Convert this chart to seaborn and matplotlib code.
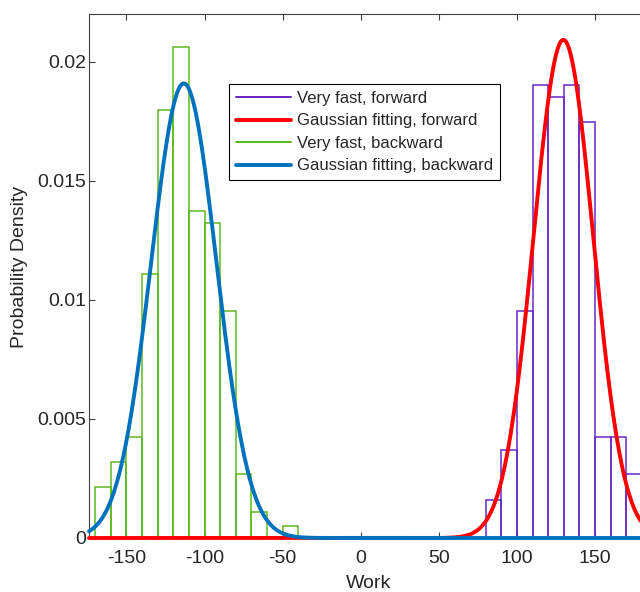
import numpy as np
import pandas as pd
import matplotlib
matplotlib.use("Agg")
import matplotlib.pyplot as plt
from matplotlib.lines import Line2D
import seaborn as sns

# Histogram bin edges (width 10) and probability densities
fwd_edges = [80, 90, 100, 110, 120, 130, 140, 150, 160, 170, 180]
fwd_density = [0.0016, 0.00371, 0.00952, 0.01903, 0.0185, 0.01903,
               0.01745, 0.00424, 0.00424, 0.00268]

bwd_edges = [-170, -160, -150, -140, -130, -120, -110, -100, -90, -80,
             -70, -60, -50, -40]
bwd_density = [0.00213, 0.00318, 0.00424, 0.01109, 0.01798, 0.02062,
               0.01375, 0.01322, 0.00952, 0.00268, 0.00108, 0.0, 0.00052]

# Gaussian fit parameters (mean, standard deviation)
fwd_mu, fwd_sigma = 129.7, 19.07
bwd_mu, bwd_sigma = -113.3, 20.9

x_ticks = [-150, -100, -50, 0, 50, 100, 150]
y_ticks = [0, 0.005, 0.01, 0.015, 0.02]
y_tick_labels = ["0", "0.005", "0.01", "0.015", "0.02"]

legend_labels = ["Very fast, forward", "Gaussian fitting, forward",
                 "Very fast, backward", "Gaussian fitting, backward"]

c_fwd_hist = "#6A28C2"
c_fwd_fit = "#FF0000"
c_bwd_hist = "#5DB81E"
c_bwd_fit = "#0072BD"

sns.set_style("white")
plt.rcParams["font.family"] = ["Liberation Sans", "DejaVu Sans"]
plt.rcParams["axes.unicode_minus"] = False

fig = plt.figure(figsize=(6.4, 5.92), dpi=100)
xmin, xmax = -174, 200
ax_w_px = (xmax - xmin) * 1.562
ax = fig.add_axes([89 / 640, 54 / 592, ax_w_px / 640, 524 / 592])


def centers(edges):
    e = np.asarray(edges, dtype=float)
    return (e[:-1] + e[1:]) / 2


def gauss(x, mu, sigma):
    return np.exp(-0.5 * ((x - mu) / sigma) ** 2) / (sigma * np.sqrt(2 * np.pi))


xs = np.linspace(xmin, xmax, 400)
fits = pd.DataFrame({
    "Work": xs,
    "fwd": gauss(xs, fwd_mu, fwd_sigma),
    "bwd": gauss(xs, bwd_mu, bwd_sigma),
})

hist_lw = 1.1
fit_lw = 2.8

sns.histplot(x=centers(fwd_edges), weights=fwd_density, bins=fwd_edges,
             stat="count", fill=False, color=c_fwd_hist, linewidth=hist_lw, ax=ax)
sns.lineplot(data=fits, x="Work", y="fwd", color=c_fwd_fit, linewidth=fit_lw,
             ax=ax, zorder=3, clip_on=False)
sns.histplot(x=centers(bwd_edges), weights=bwd_density, bins=bwd_edges,
             stat="count", fill=False, color=c_bwd_hist, linewidth=hist_lw, ax=ax)
sns.lineplot(data=fits, x="Work", y="bwd", color=c_bwd_fit, linewidth=fit_lw,
             ax=ax, zorder=3, clip_on=False)

ax.set_xlim(xmin, xmax)
ax.set_ylim(0, 0.022)
ax.set_xticks(x_ticks)
ax.set_yticks(y_ticks)
ax.set_yticklabels(y_tick_labels)

axis_color = "#404040"
for s in ax.spines.values():
    s.set_visible(True)
    s.set_color(axis_color)
    s.set_linewidth(0.8)
ax.tick_params(direction="in", length=4.5, width=0.8, color=axis_color,
               labelcolor="#262626", labelsize=14, top=True, right=True,
               bottom=True, left=True)
ax.tick_params(axis="x", pad=8.5)
ax.tick_params(axis="y", pad=2)

ax.set_xlabel("Work", fontsize=14, color="#262626")
ax.set_ylabel("Probability Density", fontsize=14, color="#262626")
ax.xaxis.set_label_coords((368.5 - 89) / ax_w_px, (538 - 583) / 524)
ax.xaxis.label.set_va("center")
ax.yaxis.set_label_coords((20 - 89) / ax_w_px, (538 - 267) / 524)
ax.yaxis.label.set_va("center")

handles = [
    Line2D([], [], color=c_fwd_hist, linewidth=hist_lw * 1.3),
    Line2D([], [], color=c_fwd_fit, linewidth=fit_lw),
    Line2D([], [], color=c_bwd_hist, linewidth=hist_lw * 1.3),
    Line2D([], [], color=c_bwd_fit, linewidth=fit_lw),
]
leg = ax.legend(handles, legend_labels, loc="upper left",
                bbox_to_anchor=((229 - 89) / ax_w_px, (538 - 84) / 524),
                borderaxespad=0, fontsize=12, frameon=True, fancybox=False,
                framealpha=1, edgecolor="#000000", handlelength=3.3,
                handletextpad=0.35, labelspacing=0.45, borderpad=0.42)
leg.get_frame().set_linewidth(0.8)
for t in leg.get_texts():
    t.set_color("#262626")

fig.savefig("out.png", dpi=100)
